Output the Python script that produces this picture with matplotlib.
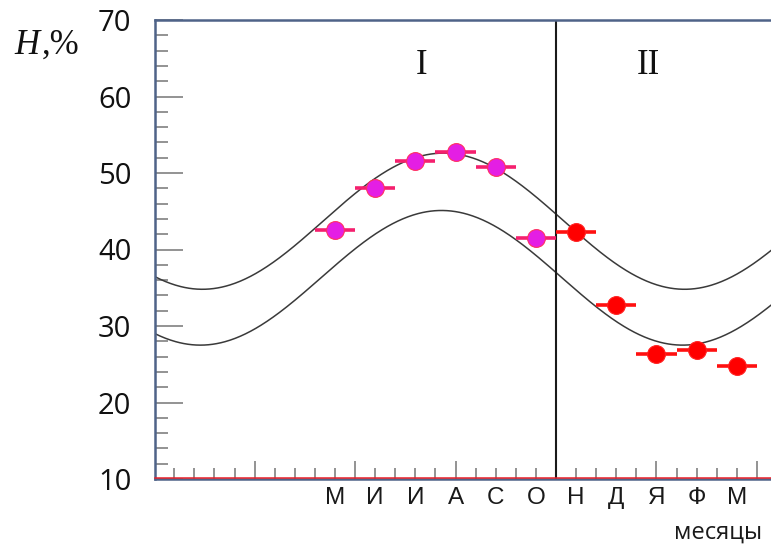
import numpy as np
import matplotlib
matplotlib.use("Agg")
import matplotlib.pyplot as plt

# ---- data ----
month_labels = ["М", "И", "И", "А", "С", "О", "Н", "Д", "Я", "Ф", "М"]
month_pos = list(range(11))
h_period1 = [42.5, 48.1, 51.6, 52.8, 50.8, 41.5]       # May..Oct (I)
h_period2 = [42.3, 32.7, 26.4, 26.8, 24.8]             # Nov..Mar (II)
x_err = 0.5
# model envelope curves (mean, amplitude, phase of maximum in months, period)
upper_curve = dict(mean=43.7, amp=8.9, peak=2.7, period=12.0)
lower_curve = dict(mean=36.3, amp=8.8, peak=2.65, period=12.0)
divider_x = 5.5
y_ticks = [10, 20, 30, 40, 50, 60, 70]

# ---- figure ----
fig = plt.figure(figsize=(7.71, 5.44), dpi=100)
ax = fig.add_axes([155/771, 65/544, (771-155)/771, (479-20)/544])
xmin, xmax = -4.48, 10.85
ax.set_xlim(xmin, xmax)
ax.set_ylim(10, 70)

spine_col = "#4f6388"
for s in ["left", "top", "bottom"]:
    ax.spines[s].set_color(spine_col)
    ax.spines[s].set_linewidth(1.8)
ax.spines["right"].set_visible(False)
ax.axhline(10.12, color="#e8202a", lw=1.1, zorder=3, clip_on=False)

# curves
xs = np.linspace(xmin, xmax, 600)
for c in (upper_curve, lower_curve):
    ys = c["mean"] + c["amp"] * np.cos(2*np.pi*(xs - c["peak"])/c["period"])
    ax.plot(xs, ys, color="#3a3a3a", lw=1.1, zorder=2)

# divider
ax.axvline(divider_x, color="#1a1a1a", lw=1.5, zorder=2)

# points
x1 = month_pos[:len(h_period1)]
x2 = month_pos[len(h_period1):]
ax.errorbar(x1, h_period1, xerr=x_err, fmt="none", ecolor="#f5206e", elinewidth=2.6,
            capsize=0, zorder=4)
ax.plot(x1, h_period1, "o", ms=12.8, mfc="#e41ee4", mec="#ff3060", mew=0.8, zorder=5)
ax.errorbar(x2, h_period2, xerr=x_err, fmt="none", ecolor="#ff1010", elinewidth=2.6,
            capsize=0, zorder=4)
ax.plot(x2, h_period2, "o", ms=12.8, mfc="#ff0000", mec="#ff2020", mew=0.8, zorder=5)

# ticks
tick_col = "#8a8a8a"
ax.set_yticks(y_ticks)
ax.set_yticks(np.arange(10, 71, 2), minor=True)
ax.tick_params(axis="y", which="major", direction="in", length=20, width=1.3,
               color=tick_col, pad=17, labelsize=21, labelcolor="#111111")
ax.tick_params(axis="y", which="minor", direction="in", length=9, width=1.3, color=tick_col)
for lab in ax.get_yticklabels():
    lab.set_fontfamily("Open Sans")

ax.set_xticks(np.arange(-2, 11, 2.5))
ax.set_xticks(np.arange(-4, 11, 0.5), minor=True)
ax.tick_params(axis="x", which="major", direction="in", length=13, width=1.3,
               color=tick_col, labelbottom=False)
ax.tick_params(axis="x", which="minor", direction="in", length=8, width=1.3, color=tick_col)

trans = ax.get_xaxis_transform()
for m, lab in zip(month_pos, month_labels):
    ax.text(m, -0.041, lab, transform=trans, ha="center", va="center", fontsize=17.5,
            family=["Liberation Sans Narrow", "Liberation Sans", "DejaVu Sans"],
            color="#1a1a1a")

fig.text(762/771, 1 - 533/544, "месяцы", ha="right", va="center", fontsize=17,
         family="Open Sans", color="#1a1a1a")
fig.text(14/771, 1 - 45/544, "H", ha="left", va="center", fontsize=25,
         family="Liberation Serif", style="italic", color="#111111")
fig.text(42/771, 1 - 45/544, ",%", ha="left", va="center", fontsize=25,
         family="Liberation Serif", color="#111111")

fig.text(421.7/771, 1 - 65/544, "I", ha="center", va="center", fontsize=25,
         family="Liberation Serif", color="#111111")
fig.text(648/771, 1 - 65/544, "II", ha="center", va="center", fontsize=25,
         family="Liberation Serif", color="#111111")

fig.savefig("out.png", dpi=100)
